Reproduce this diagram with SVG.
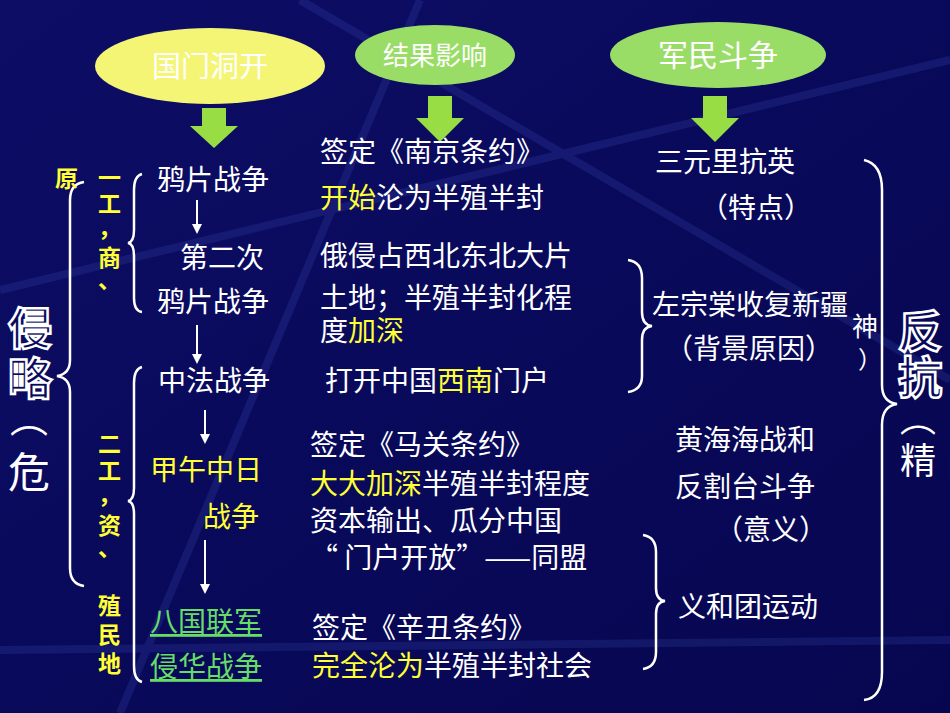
<svg xmlns="http://www.w3.org/2000/svg" width="950" height="713" viewBox="0 0 950 713">
<defs>
<linearGradient id="bg" x1="0" y1="0" x2="1" y2="1"><stop offset="0" stop-color="#0d0d66"/><stop offset="1" stop-color="#060650"/></linearGradient>
<marker id="ah" markerWidth="10" markerHeight="10" refX="8" refY="5" orient="auto" markerUnits="userSpaceOnUse"><path d="M0,0 L10,5 L0,10 Z" fill="#fff"/></marker>
</defs>
<style>
text{font-family:"Noto Sans CJK SC","Noto Sans",sans-serif;font-size:28px;fill:#fff}
.y{fill:#ffff33}.g{fill:#66dd66;text-decoration:underline}
.s{font-size:23px;fill:#ffff33;font-weight:bold}
.ol{fill:#0a0a5a;stroke:#fff;stroke-width:2.5;font-size:44px;font-weight:bold}
.br{fill:none;stroke:#fff;stroke-width:2.5}
.bl{fill:#99dd44}
</style>
<rect width="950" height="713" fill="url(#bg)"/>
<g opacity="0.12" stroke="#6688ff" stroke-width="8" fill="none">
<path d="M0,290 L950,60"/><path d="M120,713 L420,0"/><path d="M300,0 L950,380"/><path d="M0,650 L950,640"/>
</g>
<g id="h1"><ellipse cx="210" cy="66" rx="115" ry="38" fill="#f5f575"/><text x="210" y="77" text-anchor="middle" style="font-size:29px">国门洞开</text></g>
<g id="h2"><ellipse cx="435" cy="55" rx="80" ry="30" fill="#99dd66"/><text x="435" y="65" text-anchor="middle" style="font-size:26px">结果影响</text></g>
<g id="h3"><ellipse cx="718" cy="55" rx="108" ry="33" fill="#99dd66"/><text x="718" y="66" text-anchor="middle" style="font-size:30px">军民斗争</text></g>
<g id="arrows">
<path class="bl" d="M202,108 h24 v18 h12 l-24,22 l-24,-22 h12 z"/>
<path class="bl" d="M428,96 h24 v22 h12 l-24,24 l-24,-24 h12 z"/>
<path class="bl" d="M703,96 h24 v22 h12 l-24,24 l-24,-24 h12 z"/>
<g stroke="#fff" stroke-width="2" marker-end="url(#ah)">
<line x1="197" y1="200" x2="197" y2="232"/><line x1="197" y1="325" x2="197" y2="362"/>
<line x1="205" y1="410" x2="205" y2="442"/><line x1="205" y1="540" x2="205" y2="592"/>
</g>
</g>
<g id="col1">
<text x="157" y="190">鸦片战争</text>
<text x="180" y="268">第二次</text>
<text x="157" y="312">鸦片战争</text>
<text x="158" y="391">中法战争</text>
<text x="150" y="480" class="y">甲午中日</text>
<text x="203" y="527" class="y">战争</text>
<text x="150" y="632" class="g">八国联军</text>
<text x="150" y="677" class="g">侵华战争</text>
</g>
<g id="col2">
<text x="320" y="162">签定《南京条约》</text>
<text x="320" y="208"><tspan class="y">开始</tspan>沦为半殖半封</text>
<text x="320" y="266">俄侵占西北东北大片</text>
<text x="320" y="308">土地；半殖半封化程</text>
<text x="320" y="341">度<tspan class="y">加深</tspan></text>
<text x="325" y="391">打开中国<tspan class="y">西南</tspan>门户</text>
<text x="310" y="455">签定《马关条约》</text>
<text x="310" y="494"><tspan class="y">大大加深</tspan>半殖半封程度</text>
<text x="310" y="531">资本输出、瓜分中国</text>
<text x="310" y="568">“ 门户开放”——同盟</text>
<text x="312" y="638">签定《辛丑条约》</text>
<text x="312" y="676"><tspan class="y">完全沦为</tspan>半殖半封社会</text>
</g>
<g id="col3">
<text x="655" y="172">三元里抗英</text>
<text x="700" y="218">（特点）</text>
<text x="652" y="315">左宗棠收复新疆</text>
<text x="665" y="359">（背景原因）</text>
<text x="675" y="450">黄海海战和</text>
<text x="675" y="497">反割台斗争</text>
<text x="715" y="540">（意义）</text>
<text x="678" y="617">义和团运动</text>
</g>
<g id="braces">
<path class="br" d="M628,260 Q642,262 642,278 L642,312 Q642,325 652,326 Q642,327 642,340 L642,376 Q642,390 628,392"/>
<path class="br" d="M643,535 Q656,537 656,552 L656,588 Q656,600 665,601 Q656,602 656,614 L656,652 Q656,667 643,669"/>
<path class="br" d="M84,182 Q70,184 70,200 L70,360 Q70,374 57,376 Q70,378 70,392 L70,568 Q70,584 84,586"/>
<path class="br" d="M142,174 Q134,176 134,190 L134,230 Q134,242 128,243 Q134,244 134,256 L134,298 Q134,311 142,312"/>
<path class="br" d="M142,367 Q134,369 134,383 L134,488 Q134,500 128,501 Q134,502 134,514 L134,666 Q134,680 142,682"/>
<path class="br" d="M864,160 Q882,164 882,190 L882,385 Q882,402 897,404 Q882,406 882,425 L882,672 Q882,698 864,700"/>
</g>
<g id="side">
<text x="55" y="187" class="s">原</text>
<text x="98" y="186" class="s">一</text><text x="98" y="212" class="s">工</text><text x="98" y="236" class="s">，</text><text x="98" y="266" class="s">商</text><text x="98" y="288" class="s">、</text>
<text x="98" y="452" class="s">二</text><text x="98" y="479" class="s">工</text><text x="98" y="503" class="s">，</text><text x="98" y="534" class="s">资</text><text x="98" y="556" class="s">、</text>
<text x="98" y="614" class="s">殖</text><text x="98" y="643" class="s">民</text><text x="98" y="672" class="s">地</text>
<text x="8" y="345" class="ol">侵</text>
<text x="8" y="395" class="ol">略</text>
<text x="10" y="432" style="font-size:38px">︵</text>
<text x="8" y="488" style="font-size:42px">危</text>
<text x="898" y="348" class="ol">反</text>
<text x="898" y="394" class="ol">抗</text>
<text x="900" y="432" style="font-size:36px">︵</text>
<text x="900" y="474" style="font-size:36px">精</text>
<text x="852" y="336" style="font-size:26px">神</text>
<text x="858" y="368" style="font-size:24px">）</text>
</g>
</svg>
